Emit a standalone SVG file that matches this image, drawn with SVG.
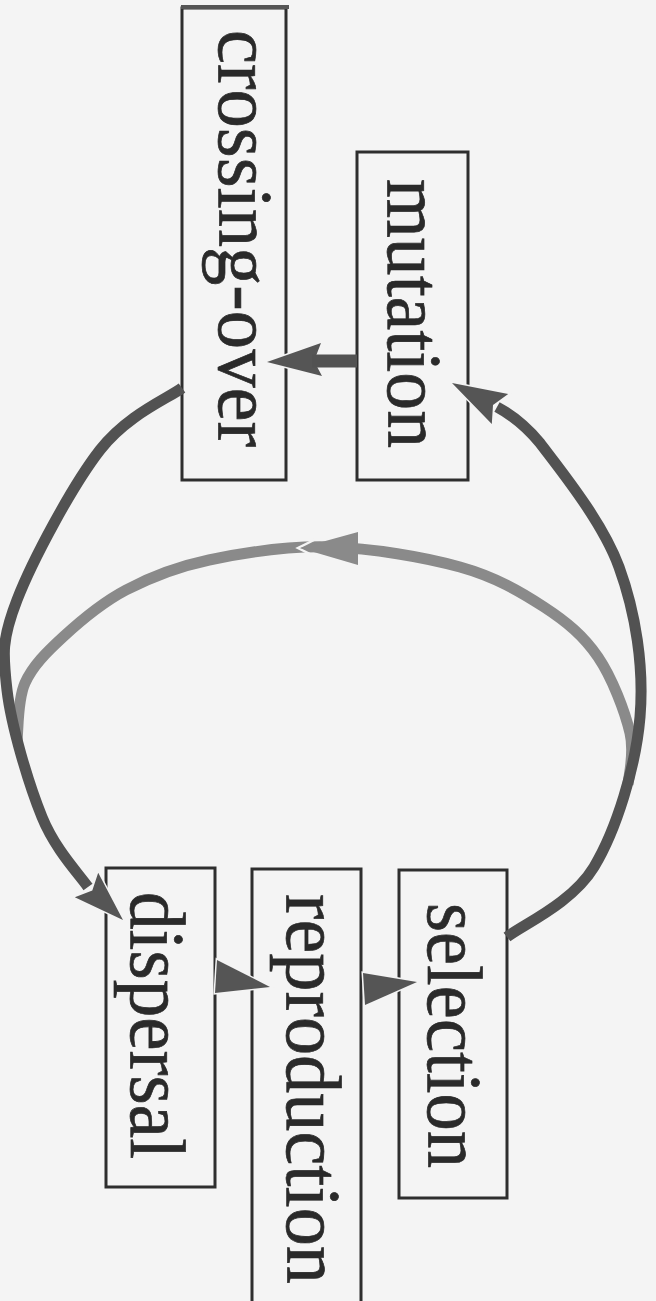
<svg xmlns="http://www.w3.org/2000/svg" width="656" height="1301" viewBox="0 0 656 1301">
<style>
.box{fill:none;stroke:#2e2e2e;stroke-width:3}
.lbl{font-family:"Liberation Serif","Times New Roman",serif;font-size:78px;fill:#2a2a2a;stroke:#2a2a2a;stroke-width:0.7}
.dark{fill:none;stroke:#525252;stroke-width:11}
.gray{fill:none;stroke:#8a8a8a;stroke-width:11}
.headd{fill:#555555;stroke:#f4f4f4;stroke-width:3;paint-order:stroke;stroke-linejoin:miter}
.headg{fill:#8a8a8a}
</style>
<rect x="0" y="0" width="656" height="1301" fill="#f4f4f4"/>

<g id="node-crossing-over">
<rect class="box" x="182" y="8" width="104" height="472"/>
<line x1="181" y1="7" x2="289" y2="7" stroke="#555555" stroke-width="4"/>
<text class="lbl" transform="translate(219,30) rotate(90)" textLength="417" lengthAdjust="spacingAndGlyphs">crossing-over</text>
</g>
<g id="node-mutation">
<rect class="box" x="357" y="152" width="111" height="328"/>
<text class="lbl" transform="translate(388,179) rotate(90)" textLength="269" lengthAdjust="spacingAndGlyphs">mutation</text>
</g>
<g id="node-dispersal">
<rect class="box" x="106" y="868" width="109" height="319"/>
<text class="lbl" transform="translate(131,892) rotate(90)" textLength="267" lengthAdjust="spacingAndGlyphs">dispersal</text>
</g>
<g id="node-reproduction">
<rect class="box" x="252" y="869" width="109" height="460"/>
<text class="lbl" transform="translate(287,894) rotate(90)" textLength="390" lengthAdjust="spacingAndGlyphs">reproduction</text>
</g>
<g id="node-selection">
<rect class="box" x="399" y="870" width="108" height="328"/>
<text class="lbl" transform="translate(428,903) rotate(90)" textLength="265" lengthAdjust="spacingAndGlyphs">selection</text>
</g>

<g id="connectors">
<path class="gray" d="M628,785 C628.3,776.3 635,754.3 630,733 C625,711.7 612.3,678 598,657 C583.7,636 567,622 544,607 C521,592 495.7,577 460,567 C424.3,557 371.8,548.2 330,547 C288.2,545.8 243,552.8 209,560 C175,567.2 150.3,577.2 126,590 C101.7,602.8 79.8,621.5 63,637 C46.2,652.5 32.7,665.8 25,683 C17.3,700.2 18.3,730.5 17,740"/>
<polyline points="318,538 298,548 318,558" fill="none" stroke="#f4f4f4" stroke-width="2.5"/>
<polygon class="headg" points="300,548 358,532 358,565"/>

<polygon class="headd" points="123,920 98.2,872.8 92.3,890.5 74.8,897.2"/>
<path class="dark" d="M182,388 C168.3,398.3 127.5,414.7 100,450 C72.5,485.3 32.5,560 17,600 C1.5,640 2.8,653.8 7,690 C11.2,726.2 28.8,784.5 42,817 C55.2,849.5 78.7,873.7 88,887"/>

<polygon class="headd" points="452,383 508.2,394 493,405 491.8,424"/>
<path class="dark" d="M507,937 C521.5,925.3 571.8,903.7 594,867 C616.2,830.3 635.8,767 640,717 C644.2,667 635.7,612.7 619,567 C602.3,521.3 559.8,469.3 540,443 C525,425 510,414 497,407"/>

<polygon class="headd" points="267,362 321,343 314,361 322,376"/>
<line x1="357" y1="361" x2="312" y2="361" stroke="#525252" stroke-width="13"/>

<polygon class="headd" points="217,960 270,987 215,993"/>
<polygon class="headd" points="363,973 417,982 365,1005"/>
</g>
</svg>
